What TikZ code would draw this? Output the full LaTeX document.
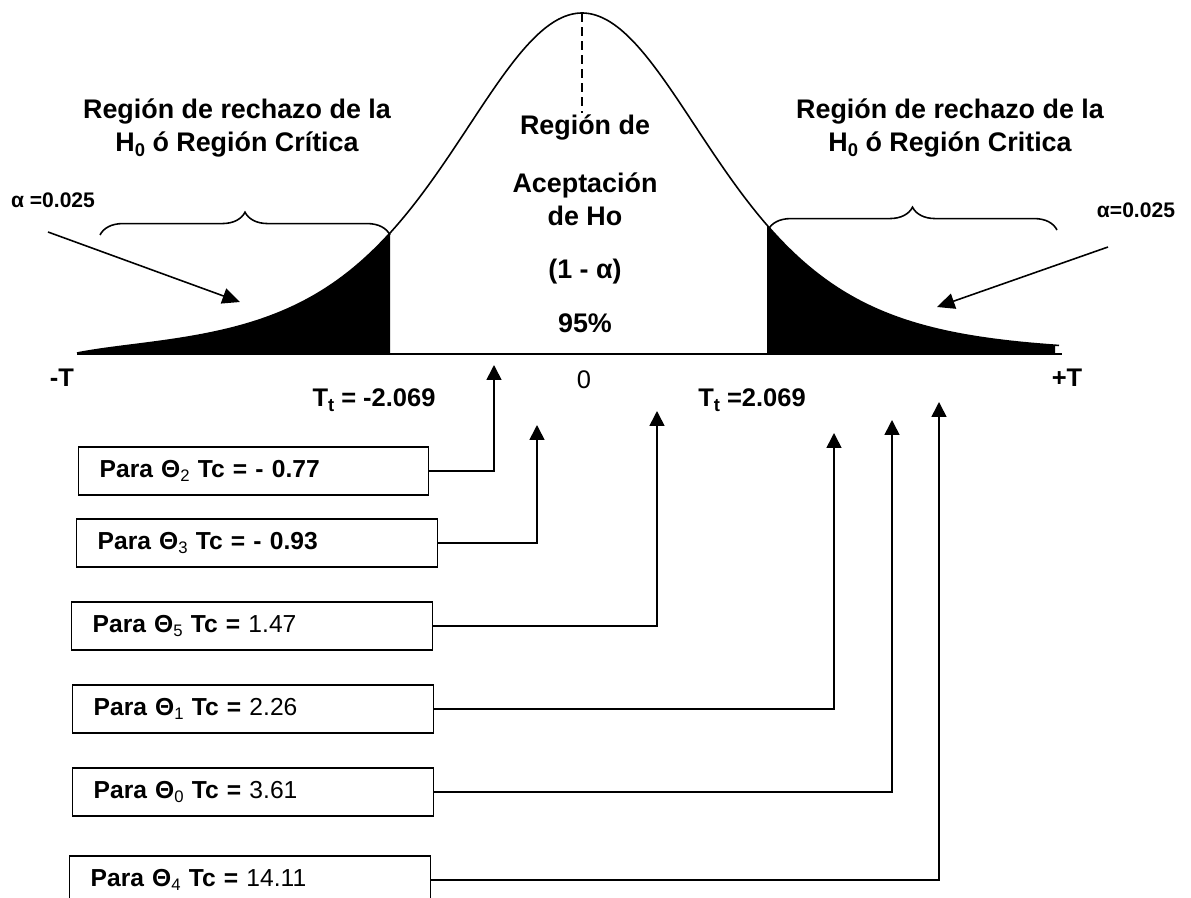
\documentclass[tikz,border=0pt]{standalone}
\usepackage{fontspec}
\setmainfont{Liberation Sans}
\usetikzlibrary{arrows.meta,decorations.pathreplacing}

\tikzset{
  tcbox/.style={draw,line width=0.8pt,anchor=west,minimum height=0.96cm,
    inner xsep=0.42cm,text width=6.38cm,align=left,
    font=\fontsize{14}{16.5}\selectfont\bfseries},
  tcarrow/.style={line width=0.9pt,-{Triangle[width=8.5pt,length=8.5pt]}},
  alfarrow/.style={line width=0.9pt,-{Triangle[width=9pt,length=10pt]}},
  titulo/.style={align=center,font=\fontsize{15.3}{18.7}\selectfont\bfseries},
  eje/.style={font=\fontsize{14.5}{17}\selectfont\bfseries},
}
\newcommand\subn[1]{\raisebox{-0.3ex}{\fontsize{9.5}{9.5}\selectfont\mdseries #1}}
\newcommand\subb[1]{\raisebox{-0.35ex}{\fontsize{10.5}{10.5}\selectfont\bfseries #1}}

\begin{document}
\begin{tikzpicture}[x=0.02cm,y=-0.02cm]
\useasboundingbox (0,0) rectangle (1191,898);

% colas sombreadas
\fill plot[domain=77:390,samples=80,smooth] (\x,{353-(1-exp(-(\x-77)/30))*340/(1+((\x-582)/298)^2)^3}) -- (390,353) -- (77,353) -- cycle;
\fill plot[domain=767:1055,samples=60] (\x,{353-340/(1+((\x-582)/298)^2)^3}) -- (1055,353) -- (767,353) -- cycle;
\draw[line width=0.9pt] plot[domain=77:1059,samples=160,smooth] (\x,{353-(1-exp(-(\x-77)/30))*340/(1+((\x-582)/298)^2)^3});
\draw[line width=1pt] (77,354) -- (1062,354);
\draw[line width=0.9pt,dash pattern=on 5pt off 3pt] (582,13) -- (582,113);

\draw [decorate,decoration={brace,amplitude=13pt},line width=0.9pt] (100,235) -- (390,235);
\draw [decorate,decoration={brace,amplitude=13pt},line width=0.9pt] (768,230) -- (1057,230);

\node[titulo] (rechL) at (237,128) {Región de rechazo de la\\H\subb{0} ó Región Crítica};
\node[titulo] (rechR) at (950,128) {Región de rechazo de la\\H\subb{0} ó Región Critica};

\node[titulo] (acep1) at (585,127) {Región de};
\node[titulo] (acep2) at (585,199) {Aceptación\\de Ho};
\node[titulo] (acep3) at (585,272) {(1 - α)};
\node[titulo] (acep4) at (585,323) {95\%};

\node[font=\fontsize{12}{14}\selectfont\bfseries] (alfaL) at (53,200) {α =0.025};
\node[font=\fontsize{12}{14}\selectfont\bfseries] (alfaR) at (1136,210) {α=0.025};
\coordinate (sL) at (48,232);
\coordinate (eL) at (240,302);
\coordinate (sR) at (1108,247);
\coordinate (eR) at (937,307);
\draw[alfarrow] (sL) -- (eL);
\draw[alfarrow] (sR) -- (eR);

\node[eje] (menosT) at (62,378) {-T};
\node[eje] (masT) at (1067,378) {+T};
\node[font=\fontsize{14.5}{17}\selectfont] (cero) at (584,380) {0};
\node[eje] (ttL) at (374,400) {T\subb{t} = -2.069};
\node[eje] (ttR) at (752,400) {T\subb{t} =2.069};

\node[tcbox,text width=6.16cm] (b2) at (78,471) {Para Θ\subn{2} Tc = - 0.77};
\node[tcbox] (b3) at (76,543) {Para Θ\subn{3} Tc = - 0.93};
\node[tcbox] (b5) at (71,626) {Para Θ\subn{5} Tc = {\mdseries 1.47}};
\node[tcbox] (b1) at (72,709) {Para Θ\subn{1} Tc = {\mdseries 2.26}};
\node[tcbox] (b0) at (72,792) {Para Θ\subn{0} Tc = {\mdseries 3.61}};
\node[tcbox] (b4) at (69,880) {Para Θ\subn{4} Tc = {\mdseries 14.11}};

\coordinate (t2) at (494,365);
\coordinate (t3) at (537,425);
\coordinate (t5) at (657,411);
\coordinate (t1) at (834,433);
\coordinate (t0) at (892,420);
\coordinate (t4) at (939,402);
\draw[tcarrow] (b2.east) -| (t2);
\draw[tcarrow] (b3.east) -| (t3);
\draw[tcarrow] (b5.east) -| (t5);
\draw[tcarrow] (b1.east) -| (t1);
\draw[tcarrow] (b0.east) -| (t0);
\draw[tcarrow] (b4.east) -| (t4);
\end{tikzpicture}
\end{document}
